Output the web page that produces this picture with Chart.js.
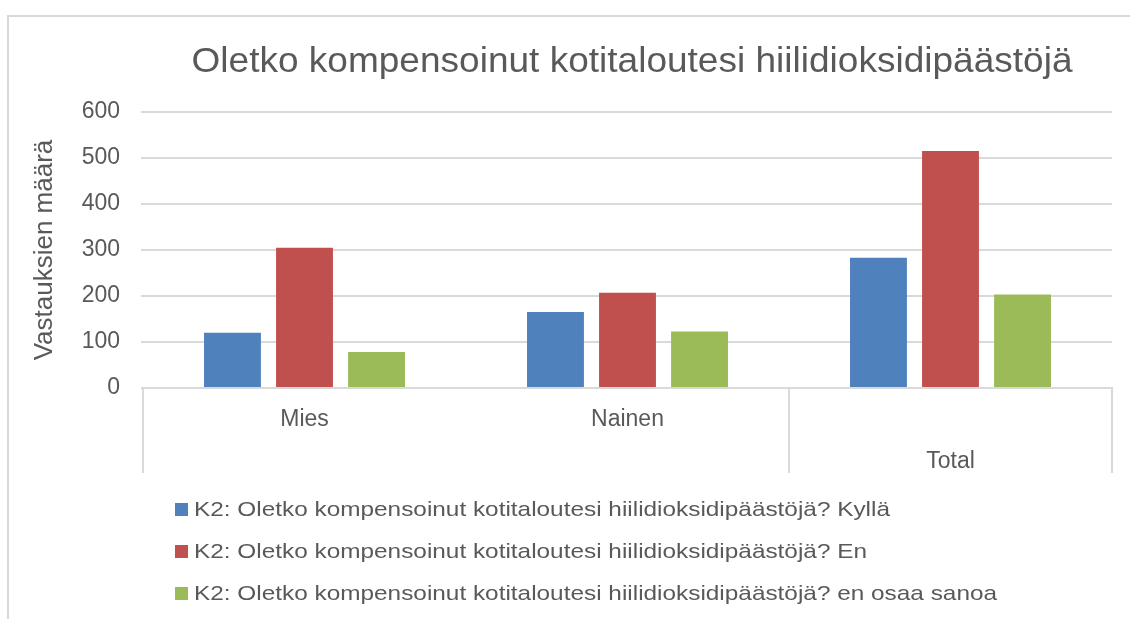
<!DOCTYPE html>
<html>
<head>
<meta charset="utf-8">
<title>Oletko kompensoinut kotitaloutesi hiilidioksidipäästöjä</title>
<script src="https://cdn.jsdelivr.net/npm/chart.js@4.4.0/dist/chart.umd.min.js"></script>
<style>
  html, body { margin: 0; padding: 0; background: #fff; }
  #wrap { position: relative; width: 1130px; height: 619px; overflow: hidden; }
  canvas { display: block; }
</style>
</head>
<body>
<div id="wrap"><canvas id="chart" width="1130" height="619"></canvas></div>
<script>
// Data
const categories = ['Mies', 'Nainen', 'Total'];
const seriesLabels = [
    'K2: Oletko kompensoinut kotitaloutesi hiilidioksidipäästöjä? Kyllä',
    'K2: Oletko kompensoinut kotitaloutesi hiilidioksidipäästöjä? En',
    'K2: Oletko kompensoinut kotitaloutesi hiilidioksidipäästöjä? en osaa sanoa'
];
const kylla = [120, 165, 283];
const en = [305, 207, 515];
const eiOsaa = [78, 123, 203];
const yMin = 0;
const yMax = 600;
const yStep = 100;
const chartTitle = 'Oletko kompensoinut kotitaloutesi hiilidioksidipäästöjä';
const yTitle = 'Vastauksien määrä';

const fontFamily = '"Liberation Sans", Arial, sans-serif';
const textColor = '#595959';
const lineColor = '#d9d9d9';

// Frame, title and the stacked legend (Excel style, text a bit wide)
const decor = {
    id: 'decor',
    beforeDraw(chart) {
        const ctx = chart.ctx;
        ctx.save();
        ctx.fillStyle = '#fff';
        ctx.fillRect(0, 0, chart.width, chart.height);
        ctx.fillStyle = lineColor;
        ctx.fillRect(7, 15, chart.width - 7, 2);
        ctx.fillRect(7, 15, 2, chart.height - 15);
        ctx.restore();
    },
    afterDraw(chart) {
        const ctx = chart.ctx;
        ctx.save();
        ctx.fillStyle = textColor;
        ctx.font = '35px ' + fontFamily;
        ctx.textAlign = 'center';
        ctx.textBaseline = 'alphabetic';
        ctx.translate(632, 72);
        ctx.scale(1.058, 1);
        ctx.fillText(chartTitle, 0, 0);
        ctx.restore();

        ctx.save();
        ctx.font = '21px ' + fontFamily;
        ctx.textAlign = 'left';
        ctx.textBaseline = 'middle';
        chart.data.datasets.forEach((ds, i) => {
            const y = 509 + i * 42;
            ctx.fillStyle = ds.backgroundColor;
            ctx.fillRect(175, y - 6, 13, 13);
            ctx.fillStyle = textColor;
            ctx.save();
            ctx.translate(194, y + 1);
            ctx.scale(1.16, 1);
            ctx.fillText(ds.label, 0, 0);
            ctx.restore();
        });
        ctx.restore();
    }
};

new Chart(document.getElementById('chart'), {
    type: 'bar',
    data: {
        labels: categories,
        datasets: [
            { label: seriesLabels[0], data: kylla, backgroundColor: '#4F81BD' },
            { label: seriesLabels[1], data: en, backgroundColor: '#C0504D' },
            { label: seriesLabels[2], data: eiOsaa, backgroundColor: '#9BBB59' }
        ]
    },
    options: {
        responsive: false,
        animation: false,
        devicePixelRatio: 1,
        layout: { padding: { left: 0, right: 18, top: 112, bottom: 0 } },
        datasets: {
            bar: { categoryPercentage: 0.669, barPercentage: 0.79 }
        },
        plugins: {
            legend: { display: false },
            title: { display: false },
            tooltip: { enabled: false }
        },
        scales: {
            x: {
                grid: {
                    offset: true,
                    drawOnChartArea: false,
                    drawTicks: true,
                    tickLength: 85,
                    lineWidth: 2,
                    // no divider between Mies and Nainen
                    color: c => c.index === 1 ? 'rgba(0,0,0,0)' : lineColor
                },
                border: { display: true, color: lineColor, width: 2 },
                ticks: {
                    color: textColor,
                    padding: -74,
                    autoSkip: false,
                    maxRotation: 0,
                    font: { family: fontFamily, size: 23, lineHeight: 1.83 },
                    callback: function (v, i) {
                        const l = this.getLabelForValue(v);
                        return i === categories.length - 1 ? ['', l] : l;
                    }
                },
                afterFit: s => { s.height = 231; }
            },
            y: {
                min: yMin,
                max: yMax,
                ticks: {
                    stepSize: yStep,
                    padding: 21,
                    color: textColor,
                    font: { family: fontFamily, size: 23 }
                },
                grid: { color: lineColor, lineWidth: 2, tickLength: 2 },
                border: { display: false },
                title: {
                    display: true,
                    text: yTitle,
                    color: textColor,
                    font: { family: fontFamily, size: 26 },
                    padding: { top: 29, bottom: 0 }
                },
                afterFit: s => { s.width = 143; }
            }
        }
    },
    plugins: [decor]
});
</script>
</body>
</html>
